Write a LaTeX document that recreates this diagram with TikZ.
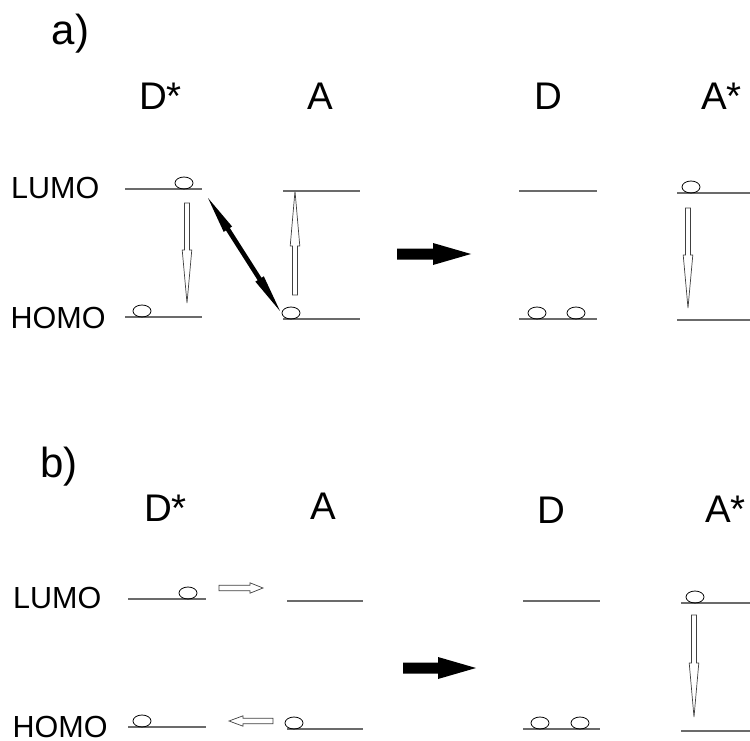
\documentclass[tikz,border=0pt]{standalone}
\usepackage{fontspec}
\setmainfont{Liberation Sans}
\usetikzlibrary{calc}

% vertical hollow arrow: x, tail y, tip y, head-base y
\newcommand\vhollow[4]{%
  \draw[hollowarrow] ({#1-2.5},#2) -- ({#1+2.5},#2) -- ({#1+2.5},#4) -- ({#1+4.8},#4)
    -- (#1,#3) -- ({#1-4.8},#4) -- ({#1-2.5},#4) -- cycle;}
% horizontal hollow arrow: y, tail x, tip x, head-base x
\newcommand\hhollow[4]{%
  \draw[hollowarrow] (#2,{#1-2.7}) -- (#2,{#1+2.7}) -- (#4,{#1+2.7}) -- (#4,{#1+5.2})
    -- (#3,#1) -- (#4,{#1-5.2}) -- (#4,{#1-2.7}) -- cycle;}
% thick filled reaction arrow: y, tail x, tip x, head-base x
\newcommand\bigarrow[4]{%
  \fill[black] (#2,{#1-5.5}) -- (#2,{#1+5.5}) -- (#4,{#1+5.5}) -- (#4,{#1+11})
    -- (#3,#1) -- (#4,{#1-11}) -- (#4,{#1-5.5}) -- cycle;}

\tikzset{
  level/.style={draw=black!58, line width=1.3pt},
  electron/.style={draw=black, line width=0.8pt, x radius=9, y radius=6},
  hollowarrow/.style={draw=black!75, line width=0.7pt, fill=white, line join=miter},
  species/.style={inner sep=0pt, anchor=base west, font=\fontsize{38.5}{40}\selectfont},
  orbital/.style={inner sep=0pt, anchor=base west, font=\fontsize{30.5}{32}\selectfont},
  panel/.style={inner sep=0pt, anchor=base west, font=\fontsize{42}{44}\selectfont},
}

\begin{document}
\begin{tikzpicture}[x=1pt, y=-1pt]
\useasboundingbox (0,0) rectangle (750,741);

% ---------------- panel a ----------------
\node[panel]   (pa)    at (51.5,45)  {a)};
\node[species] (aDs)   at (139,110)  {D*};
\node[species] (aA)    at (307,110)  {A};
\node[species] (aD)    at (534,110)  {D};
\node[species] (aAs)   at (701,110)  {A*};
\node[orbital] (aLUMO) at (11,198)   {LUMO};
\node[orbital] (aHOMO) at (10.5,328) {HOMO};

% energy levels
\draw[level] (125,189) -- (202,189);
\draw[level] (125,317) -- (202,317);
\draw[level] (283,191) -- (360,191);
\draw[level] (283,319) -- (360,319);
\draw[level] (519,191) -- (597,191);
\draw[level] (519,319) -- (597,319);
\draw[level] (677,193) -- (750,193);
\draw[level] (677,320) -- (750,320);

% electrons
\draw[electron] (184,183) ellipse[];
\draw[electron] (142,311) ellipse[];
\draw[electron] (291,313) ellipse[];
\draw[electron] (537,313) ellipse[];
\draw[electron] (576,313) ellipse[];
\draw[electron] (691,187) ellipse[];

% transitions
\vhollow{187}{203}{303}{250}
\vhollow{295}{295}{191}{246}
\vhollow{688}{208}{308}{255}

% double-headed exchange arrow, drawn as one filled outline
\coordinate (ex1) at (208,198);
\coordinate (ex2) at (280,311);
\coordinate (hb1) at ($(ex1)!37pt!(ex2)$);
\coordinate (hb2) at ($(ex2)!38pt!(ex1)$);
\fill[black]
  (ex1) -- ($(hb1)!5pt!90:(ex2)$) -- ($(hb1)!2.3pt!90:(ex2)$)
  -- ($(hb2)!2.3pt!-90:(ex1)$) -- ($(hb2)!5pt!-90:(ex1)$)
  -- (ex2) -- ($(hb2)!5pt!90:(ex1)$) -- ($(hb2)!2.3pt!90:(ex1)$)
  -- ($(hb1)!2.3pt!-90:(ex2)$) -- ($(hb1)!5pt!-90:(ex2)$) -- cycle;

\bigarrow{254}{397}{471}{433}

% ---------------- panel b ----------------
\node[panel]   (pb)    at (40,477)   {b)};
\node[species] (bDs)   at (144,521)  {D*};
\node[species] (bA)    at (310,519)  {A};
\node[species] (bD)    at (537,523)  {D};
\node[species] (bAs)   at (705,522)  {A*};
\node[orbital] (bLUMO) at (13,608)   {LUMO};
\node[orbital] (bHOMO) at (12.5,737.5) {HOMO};

% energy levels
\draw[level] (128,599) -- (206,599);
\draw[level] (128,727) -- (206,727);
\draw[level] (287,601) -- (363,601);
\draw[level] (287,729) -- (363,729);
\draw[level] (523,601) -- (600,601);
\draw[level] (523,729) -- (600,729);
\draw[level] (681,603) -- (750,603);
\draw[level] (681,731) -- (750,731);

% electrons
\draw[electron] (188,593) ellipse[];
\draw[electron] (142,721) ellipse[];
\draw[electron] (294,723) ellipse[];
\draw[electron] (540,723) ellipse[];
\draw[electron] (580,723) ellipse[];
\draw[electron] (695,597) ellipse[];

% transfers
\hhollow{588}{219}{263}{250}
\hhollow{721}{273}{229}{243}
\vhollow{694}{615}{717}{663}
\bigarrow{668}{403}{476}{438}
\end{tikzpicture}
\end{document}
